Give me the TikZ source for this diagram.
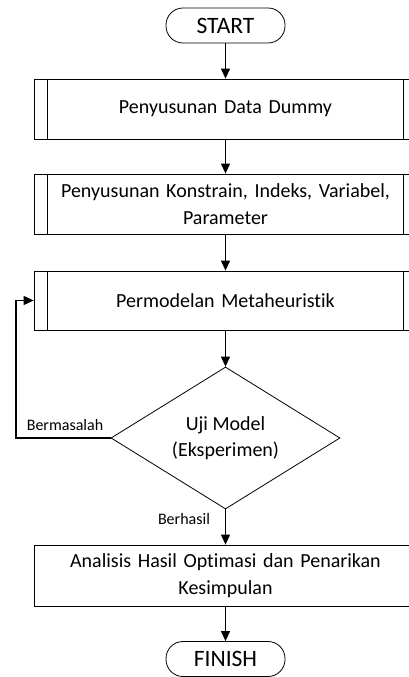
\documentclass[tikz,border=0pt]{standalone}
\usepackage{fontspec}
\setmainfont{Carlito}[Ligatures=NoCommon]
\usetikzlibrary{arrows.meta,shapes.geometric,calc}
\begin{document}
\begin{tikzpicture}[x=1pt,y=1pt,
  every node/.style={font=\fontsize{20}{27}\selectfont},
  term/.style={draw, line width=0.8pt, rounded corners=17pt, minimum width=119pt, minimum height=35pt, inner sep=0pt, font=\fontsize{23.5}{27}\selectfont},
  proc/.style={draw, line width=0.8pt, minimum width=383pt, inner sep=0pt, align=center, text width=370pt},
  dec/.style={draw, line width=0.8pt, diamond, aspect=1.613, minimum width=229pt, minimum height=142pt, inner sep=0pt, align=center, font=\fontsize{20}{25.5}\selectfont},
  lbl/.style={font=\fontsize{16}{18}\selectfont, inner sep=0pt},
  arr/.style={line width=1.2pt, -{Triangle[length=10pt,width=9pt]}}
]
\useasboundingbox (0,0) rectangle (409,677);
\clip (0,0) rectangle (409,677);
\node[term] (start) at (225.5,651.5) {START};
\node[proc, minimum height=60pt] (b1) at (225.5,568) {Penyusunan Data Dummy};
\node[proc, minimum height=60pt] (b2) at (225.5,473) {Penyusunan Konstrain, Indeks, Variabel,\\Parameter};
\node[proc, minimum height=59pt] (b3) at (225.5,376.5) {Permodelan Metaheuristik};
\node[dec] (d) at (225.5,239) {Uji Model\\(Eksperimen)};
\node[proc, minimum height=61pt] (b4) at (225.5,101.5) {Analisis Hasil Optimasi dan Penarikan\\Kesimpulan};
\node[term] (fin) at (225.5,18) {FINISH};
\foreach \b in {b1,b2,b3}{
  \draw[line width=0.8pt] ($(\b.north west)+(14,0)$) -- ($(\b.south west)+(14,0)$);
  \draw[line width=0.8pt] ($(\b.north east)+(-14,0)$) -- ($(\b.south east)+(-14,0)$);
}
\coordinate (fb) at (16,239);
\draw[arr] (start) -- (b1);
\draw[arr] (b1) -- (b2);
\draw[arr] (b2) -- (b3);
\draw[arr] (b3) -- (d);
\draw[arr] (d.south) -- (b4.north);
\draw[arr] (b4) -- (fin);
\draw[arr] (d.west) -- (fb) |- (b3.west);
\node[lbl] (bm) at (65,252) {Bermasalah};
\node[lbl] (bh) at (184,158) {Berhasil};
\end{tikzpicture}
\end{document}
